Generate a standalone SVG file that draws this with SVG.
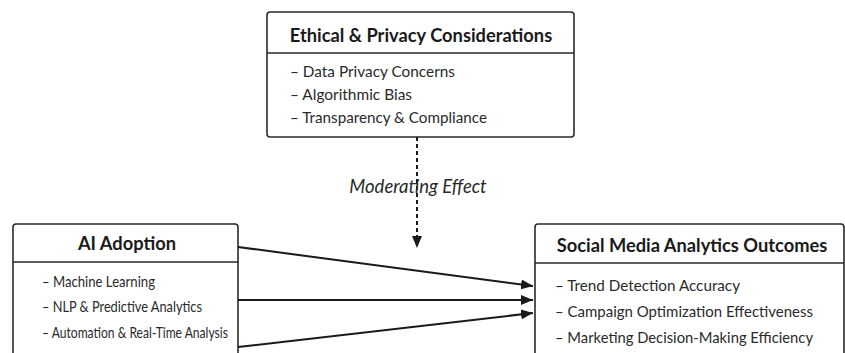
<svg xmlns="http://www.w3.org/2000/svg" width="845" height="353" viewBox="0 0 845 353">
<style>
.box{fill:#fff;stroke:#2a2a2a;stroke-width:1.6}
.div{stroke:#2a2a2a;stroke-width:1.4}
.title{font-family:Lato,"Open Sans",sans-serif;font-weight:bold;font-size:18.3px;fill:#1a1a1a;text-anchor:middle}
.item{font-family:Lato,"Open Sans",sans-serif;font-size:15.2px;fill:#2a2a2a}
.lbl{font-family:Lato,"Open Sans",sans-serif;font-style:italic;font-size:18.5px;fill:#2a2a2a;text-anchor:middle}
.conn{stroke:#1a1a1a;stroke-width:2;fill:none}
</style>
<defs>
<marker id="ah" viewBox="0 0 12 10" refX="12" refY="5" markerWidth="6" markerHeight="5" markerUnits="strokeWidth" orient="auto">
<path d="M0,0 L12,5 L0,10 z" fill="#1a1a1a"/>
</marker>
</defs>
<rect width="845" height="353" fill="#fff"/>
<g id="ethics">
<rect class="box" x="267" y="12" width="307" height="125" rx="3"/>
<line class="div" x1="267" y1="53" x2="574" y2="53"/>
<text class="title" x="421" y="42">Ethical &amp; Privacy Considerations</text>
<text class="item" x="290" y="77" textLength="165" lengthAdjust="spacingAndGlyphs">– Data Privacy Concerns</text>
<text class="item" x="290" y="100" textLength="122" lengthAdjust="spacingAndGlyphs">– Algorithmic Bias</text>
<text class="item" x="290" y="123" textLength="197" lengthAdjust="spacingAndGlyphs">– Transparency &amp; Compliance</text>
</g>
<g id="ai">
<rect class="box" x="13" y="224" width="225" height="140" rx="3"/>
<line class="div" x1="13" y1="262" x2="238" y2="262"/>
<text class="title" x="127" y="250">AI Adoption</text>
<text class="item" x="42" y="287" textLength="113" lengthAdjust="spacingAndGlyphs">– Machine Learning</text>
<text class="item" x="42" y="312" textLength="160" lengthAdjust="spacingAndGlyphs">– NLP &amp; Predictive Analytics</text>
<text class="item" x="42" y="338" textLength="186" lengthAdjust="spacingAndGlyphs">– Automation &amp; Real-Time Analysis</text>
</g>
<g id="outcomes">
<rect class="box" x="535" y="224" width="309" height="140" rx="3"/>
<line class="div" x1="535" y1="263" x2="844" y2="263"/>
<text class="title" x="692" y="252">Social Media Analytics Outcomes</text>
<text class="item" x="555" y="291" textLength="185" lengthAdjust="spacingAndGlyphs">– Trend Detection Accuracy</text>
<text class="item" x="555" y="317" textLength="258" lengthAdjust="spacingAndGlyphs">– Campaign Optimization Effectiveness</text>
<text class="item" x="555" y="343" textLength="258" lengthAdjust="spacingAndGlyphs">– Marketing Decision-Making Efficiency</text>
</g>
<g id="connectors">
<line class="conn" x1="417" y1="137" x2="417" y2="248" stroke-dasharray="4,3" marker-end="url(#ah)"/>
<text class="lbl" x="418" y="193">Moderating Effect</text>
<line class="conn" x1="238" y1="247" x2="533" y2="286" marker-end="url(#ah)"/>
<line class="conn" x1="238" y1="300" x2="533" y2="300" marker-end="url(#ah)"/>
<line class="conn" x1="238" y1="347" x2="533" y2="313" marker-end="url(#ah)"/>
</g>
</svg>
